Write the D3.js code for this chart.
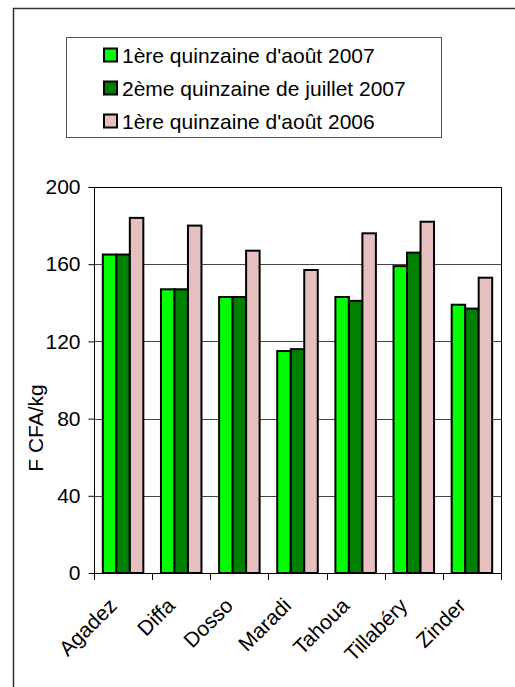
<!DOCTYPE html>
<html>
<head>
<meta charset="utf-8">
<script src="https://cdn.jsdelivr.net/npm/d3@7"></script>
<style>
  body { margin: 0; background: #fff; }
  svg { font-family: "Liberation Sans", Arial, sans-serif; }
</style>
</head>
<body>
<div id="chart"></div>
<script>
var w = 515,
  h = 687;

var regions = ["Agadez", "Diffa", "Dosso", "Maradi", "Tahoua", "Tillabéry", "Zinder"];
var series = ["1ère quinzaine d'août 2007", "2ème quinzaine de juillet 2007", "1ère quinzaine d'août 2006"];
var aout2007 = [165, 147, 143, 115, 143, 159, 139];
var juillet2007 = [165, 147, 143, 116, 141, 166, 137];
var aout2006 = [184, 180, 167, 157, 176, 182, 153];
var yTicks = [0, 40, 80, 120, 160, 200];
var colors = ["#00ff00", "#008000", "#e6bfbf"];

var values = [aout2007, juillet2007, aout2006];

var pLeft = 94, pRight = 501, pTop = 187, pBottom = 573;
var fs = "21px";

var svg = d3.select("#chart").append("svg").attr("width", w).attr("height", h);

// outer frame (runs off the right and bottom of the picture)
svg.append("rect").attr("x", 13.5).attr("y", 8.5).attr("width", 600).attr("height", 800)
  .style("fill", "none").style("stroke", "#333").style("stroke-width", 1.5);

var x0 = d3.scaleBand().domain(regions).range([pLeft, pRight]).paddingInner(0).paddingOuter(0);
var x1 = d3.scaleBand().domain(d3.range(series.length)).range([0, x0.bandwidth()]).paddingInner(0).paddingOuter(0.653);
var y = d3.scaleLinear().domain([0, 200]).range([pBottom, pTop]);

// grid
svg.append("g").selectAll("line").data(yTicks.filter(function (d) { return d > 0 && d < 200; }))
  .enter().append("line")
  .attr("x1", pLeft).attr("x2", pRight)
  .attr("y1", function (d) { return Math.round(y(d)) + 0.5; })
  .attr("y2", function (d) { return Math.round(y(d)) + 0.5; })
  .style("stroke", "#444").style("stroke-width", 1);

// plot border
svg.append("rect").attr("x", pLeft + 0.5).attr("y", pTop + 0.5).attr("width", pRight - pLeft).attr("height", pBottom - pTop)
  .style("fill", "none").style("stroke", "#000").style("stroke-width", 1);

// bars
var groups = svg.append("g").selectAll("g").data(regions).enter().append("g")
  .attr("transform", function (d) { return "translate(" + x0(d) + ",0)"; });

groups.selectAll("rect").data(function (d, i) {
    return values.map(function (v, s) { return { s: s, v: v[i] }; });
  })
  .enter().append("rect")
  .attr("x", function (d) { return x1(d.s); })
  .attr("width", x1.bandwidth())
  .attr("y", function (d) { return y(d.v); })
  .attr("height", function (d) { return pBottom - y(d.v); })
  .style("fill", function (d) { return colors[d.s]; })
  .style("stroke", "#000").style("stroke-width", 2);

// y axis
var yAxis = d3.axisLeft(y).tickValues(yTicks).tickSize(6).tickPadding(8);
var ya = svg.append("g").attr("transform", "translate(" + (pLeft + 0.5) + ",0)").call(yAxis);
ya.select(".domain").remove();
ya.selectAll("line").style("stroke", "#000");
ya.selectAll("text").style("font-size", fs).style("fill", "#000");

// x axis ticks at category boundaries
var xa = svg.append("g");
xa.append("line").attr("x1", pLeft).attr("x2", pRight + 1).attr("y1", pBottom + 0.5).attr("y2", pBottom + 0.5)
  .style("stroke", "#000");
xa.selectAll(".tk").data(regions.concat(["end"])).enter().append("line").attr("class", "tk")
  .attr("x1", function (d, i) { return Math.round(pLeft + i * x0.step()) + 0.5; })
  .attr("x2", function (d, i) { return Math.round(pLeft + i * x0.step()) + 0.5; })
  .attr("y1", pBottom).attr("y2", pBottom + 7)
  .style("stroke", "#000");

xa.selectAll("text").data(regions).enter().append("text")
  .attr("transform", function (d) {
    return "translate(" + (x0(d) + x0.bandwidth() / 2 - 5) + "," + 607 + ") rotate(-45)";
  })
  .attr("text-anchor", "end")
  .style("font-size", fs)
  .text(function (d) { return d; });

// y label
svg.append("text")
  .attr("transform", "translate(43,428) rotate(-90)")
  .attr("text-anchor", "middle")
  .style("font-size", fs)
  .text("F CFA/kg");

// legend
var lg = svg.append("g");
lg.append("rect").attr("x", 66.5).attr("y", 37.5).attr("width", 375).attr("height", 100)
  .style("fill", "#fff").style("stroke", "#555").style("stroke-width", 1);
var items = lg.selectAll("g").data(series).enter().append("g")
  .attr("transform", function (d, i) { return "translate(0," + (55 + i * 33) + ")"; });
items.append("rect").attr("x", 104).attr("y", -6.5).attr("width", 13).attr("height", 13)
  .style("fill", function (d, i) { return colors[i]; })
  .style("stroke", "#000").style("stroke-width", 2);
items.append("text").attr("x", 122).attr("dy", "0.36em")
  .style("font-size", fs)
  .text(function (d) { return d; });
</script>
</body>
</html>
